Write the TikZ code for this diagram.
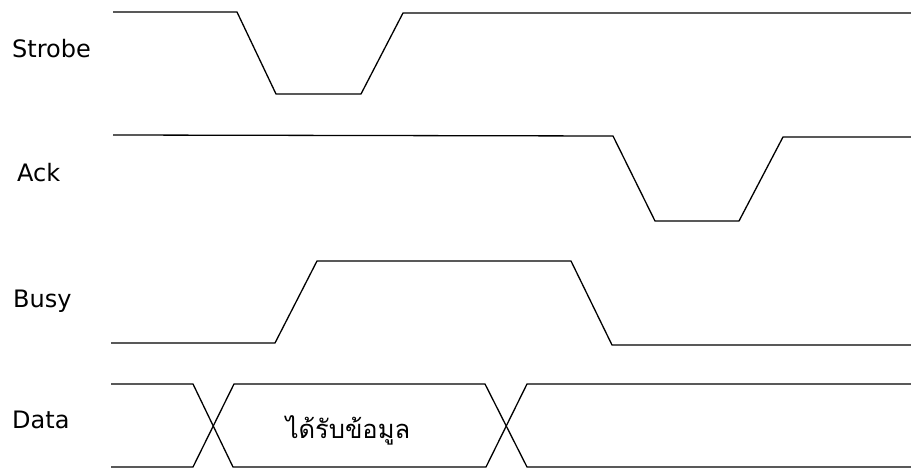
\documentclass[tikz,border=0pt]{standalone}
\usepackage{fontspec}
\setmainfont{DejaVu Sans}
\newfontfamily\thaifont[Script=Thai]{Loma}
\usetikzlibrary{positioning}

\begin{document}
\begin{tikzpicture}[x=1pt,y=-1pt,
    signal/.style={line width=1.3pt,line join=miter},
    siglabel/.style={anchor=base west,inner sep=0pt,font=\fontsize{24}{27}\selectfont}]
      \useasboundingbox (0,0) rectangle (911,468);

      \node[siglabel] (l_strobe) at (12,58)  {Strobe};
      \node[siglabel] (l_ack)    at (17,182) {Ack};
      \node[siglabel] (l_busy)   at (13,307) {Busy};
      \node[siglabel] (l_data)   at (12,428) {Data};

      % Strobe
      \draw[signal] (113,12) -- (237,12) -- (276,94) -- (361,94) -- (403,13) -- (911,13);
      % Ack
      \draw[signal] (113,135) -- (613,136) -- (655,221) -- (739,221) -- (783,137) -- (911,137);
      % Busy
      \draw[signal] (111,343) -- (275,343) -- (317,261) -- (571,261) -- (612,345) -- (911,345);
      % Data
      \draw[signal] (111,384) -- (193,384) -- (233,467) -- (486,467) -- (527,384) -- (911,384);
      \draw[signal] (111,467) -- (193,467) -- (234,384) -- (485,384) -- (527,467) -- (911,467);

      \node[anchor=base,inner sep=0pt,font=\thaifont\fontsize{25.5}{28}\selectfont] (d_val) at (348,438) {ได้รับข้อมูล};
\end{tikzpicture}
\end{document}
